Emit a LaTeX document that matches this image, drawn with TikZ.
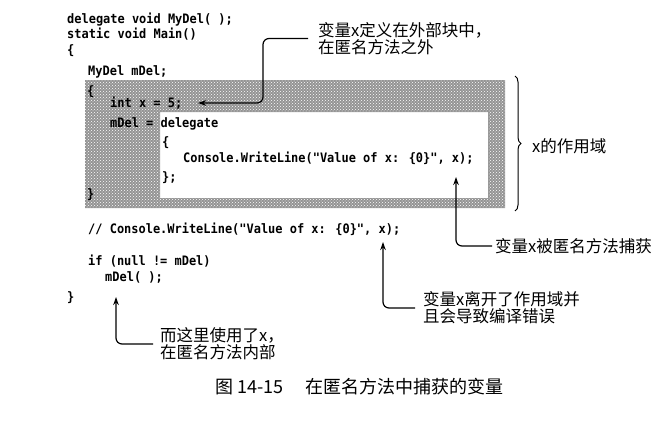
\documentclass[tikz,border=0pt]{standalone}
\usepackage{fontspec}
\newfontfamily\cjk{Noto Sans CJK SC}
\newfontfamily\codefont[FakeStretch=0.92]{DejaVu Sans Mono}
\usetikzlibrary{arrows.meta,decorations.pathreplacing,patterns}
\begin{document}
\begin{tikzpicture}[x=1pt,y=-1pt,
  code/.style={anchor=base west,inner sep=0pt,font=\codefont\bfseries\fontsize{13}{15}\selectfont},
  note/.style={anchor=west,inner sep=0pt,align=left,font=\cjk\fontsize{16.5}{17}\selectfont},
  conn/.style={line width=1.2pt,rounded corners=6pt,-{Stealth[length=8pt,width=5.5pt]}}]
\useasboundingbox (0,0) rectangle (671,426);
% shaded scope of x
\fill[black!42,even odd rule] (85,80) rectangle (505,208) (160,112) rectangle (488,198);
\fill[pattern=crosshatch dots,pattern color=white,even odd rule] (85,80) rectangle (505,208) (160,112) rectangle (488,198);
% code
\node[code] (c1) at (67,23) {delegate void MyDel( );};
\node[code] (c2) at (67,38.5) {static void Main()};
\node[code] (c3) at (67,54) {\{};
\node[code] (c4) at (88,75) {MyDel mDel;};
\node[code] (c5) at (87,95) {\{};
\node[code] (c6) at (110,107) {int x = 5;};
\node[code] (c7) at (110,127) {mDel = delegate};
\node[code] (c8) at (162,146) {\{};
\node[code] (c9) at (183,162) {Console.WriteLine("Value of x: \{0\}", x);};
\node[code] (c10) at (162,181) {\};};
\node[code] (c11) at (87,198) {\}};
\node[code] (c12) at (88,233) {// Console.WriteLine("Value of x: \{0\}", x);};
\node[code] (c13) at (88,265) {if (null != mDel)};
\node[code] (c14) at (105,281) {mDel( );};
\node[code] (c15) at (67,301) {\}};
% brace
\draw[line width=1pt,decorate,decoration={brace,amplitude=6pt}] (515,76) -- (515,211);
\node[note] (scope) at (532,146) {x的作用域};
% notes
\node[note] (l1) at (318,38.5) {变量x定义在外部块中，\\在匿名方法之外};
\node[note] (l2) at (495,246) {变量x被匿名方法捕获};
\node[note] (l3) at (423,308) {变量x离开了作用域并\\且会导致编译错误};
\node[note] (l4) at (160,344) {而这里使用了x，\\在匿名方法内部};
% arrow targets
\coordinate (k1) at (263,103);
\coordinate (t1) at (198,103);
\coordinate (t2) at (456,177);
\coordinate (t3) at (383,242);
\coordinate (t4) at (116,297);
\draw[conn] ([xshift=-10pt]l1.west) -| (k1) -- (t1);
\draw[conn] ([xshift=-3pt]l2.west) -| (t2);
\draw[conn] ([xshift=-8pt]l3.west) -| (t3);
\draw[conn] ([xshift=-7pt]l4.west) -| (t4);
% caption
\node[anchor=west,inner sep=0pt,font=\cjk\fontsize{18}{20}\selectfont] (cap) at (215,387) {图 14-15\hspace{22pt}在匿名方法中捕获的变量};
\end{tikzpicture}
\end{document}
